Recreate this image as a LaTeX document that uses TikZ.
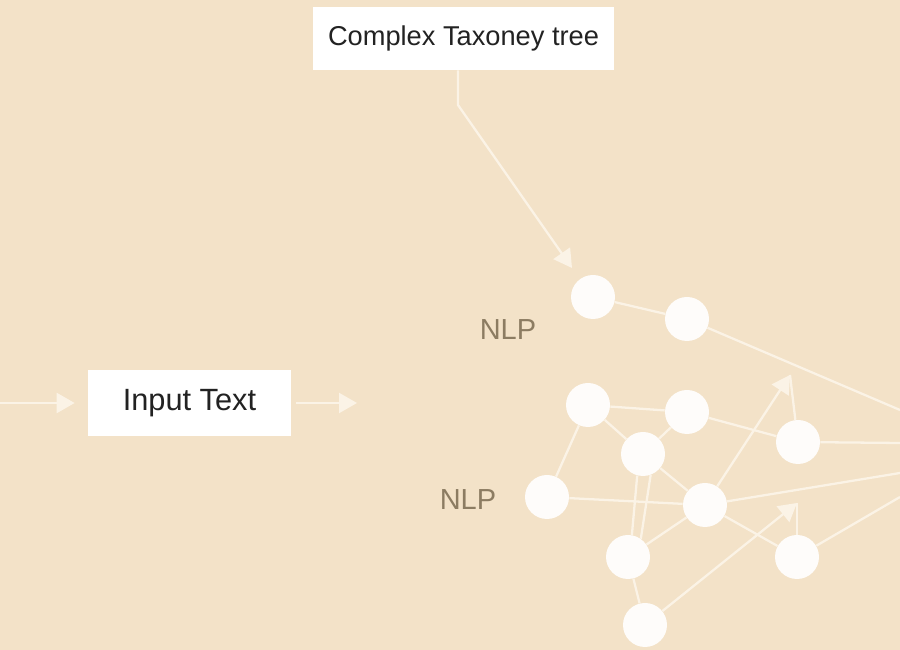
\documentclass[tikz,border=0pt]{standalone}
\usepackage{fontspec}
\setmainfont{Liberation Sans}
\usepackage{tikz}
\usetikzlibrary{arrows.meta,positioning,backgrounds}
\definecolor{sandbg}{RGB}{243,226,200}
\definecolor{creamline}{RGB}{251,243,230}
\definecolor{dotwhite}{RGB}{254,252,250}
\definecolor{labelbrown}{RGB}{140,124,98}
\definecolor{inkgray}{RGB}{34,34,34}

\begin{document}
\begin{tikzpicture}[
  label box/.style={rectangle, fill=white, inner sep=0pt, text=inkgray, font=\fontsize{15.5}{18}\selectfont},
  dot/.style={circle, fill=dotwhite, minimum size=0.88cm, inner sep=0pt},
  nlp/.style={text=labelbrown, font=\fontsize{16.5}{19}\selectfont},
  link/.style={draw=creamline, line width=1.3pt},
  arr/.style={link, -{Triangle[length=3.6mm, width=4mm]}}
]
\useasboundingbox (0,0) rectangle (18,-13);

% labelled boxes
\node[label box, minimum width=6.02cm, minimum height=1.26cm] (tax) at (9.27,-0.77) {Complex Taxoney tree};
\node[label box, minimum width=4.06cm, minimum height=1.32cm, font=\fontsize{17.5}{20}\selectfont] (input) at (3.79,-8.06) {Input Text};
\node[nlp] (nlpa) at (10.16,-6.60) {NLP};
\node[nlp] (nlpb) at (9.36,-10.00) {NLP};

% network
\node[dot] (n1) at (11.86,-5.94) {};
\node[dot] (n2) at (13.74,-6.38) {};
\node[dot] (n3) at (11.76,-8.10) {};
\node[dot] (n4) at (13.74,-8.24) {};
\node[dot] (n5) at (12.86,-9.08) {};
\node[dot] (n6) at (15.96,-8.84) {};
\node[dot] (n7) at (10.94,-9.94) {};
\node[dot] (n8) at (14.10,-10.10) {};
\node[dot] (n9) at (12.56,-11.14) {};
\node[dot] (n10) at (15.94,-11.14) {};
\node[dot] (n11) at (12.90,-12.50) {};

\coordinate (src) at (0,-8.06);
\coordinate (outtip) at (7.14,-8.06);
\coordinate (bend) at (9.16,-2.10);
\coordinate (taxtip) at (11.44,-5.36);
\coordinate (tipa) at (15.80,-7.50);
\coordinate (tipb) at (15.94,-10.06);
\coordinate (ea) at (18,-8.20);
\coordinate (eb) at (18,-8.86);
\coordinate (ec) at (18,-9.46);
\coordinate (ed) at (18,-9.94);

\begin{scope}[on background layer]
  \fill[sandbg] (0,0) rectangle (18,-13);

  \draw[arr] (src) -- ([xshift=-2.6mm]input.west);
  \draw[arr] ([xshift=1mm]input.east) -- (outtip);
  \draw[arr] ([xshift=-1.1mm]tax.south) -- (bend) -- (taxtip);

  \draw[link] (n1) -- (n2);
  \draw[link] (n2) -- (ea);
  \draw[link] (n3) -- (n4);
  \draw[link] (n3) -- (n5);
  \draw[link] (n3) -- (n7);
  \draw[link] (n4) -- (n5);
  \draw[link] (n4) -- (n6);
  \draw[link] (n5.255) -- (n9.80);
  \draw[link] (n5.290) -- (n9.55);
  \draw[link] (n5) -- (n8);
  \draw[link] (n7) -- (n8);
  \draw[link] (n6) -- (tipa);
  \draw[arr] (n8) -- (tipa);
  \draw[link] (n6) -- (eb);
  \draw[link] (n8) -- (ec);
  \draw[link] (n8) -- (n10);
  \draw[link] (n9) -- (n8);
  \draw[link] (n9) -- (n11);
  \draw[link] (n10) -- (tipb);
  \draw[arr] (n11) -- (tipb);
  \draw[link] (n10) -- (ed);
\end{scope}
\end{tikzpicture}
\end{document}
